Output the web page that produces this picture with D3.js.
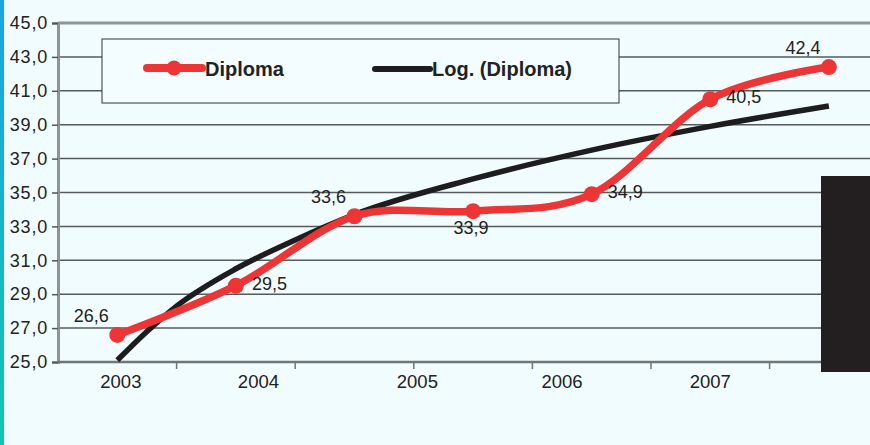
<!DOCTYPE html>
<html>
<head>
<meta charset="utf-8">
<script src="https://cdn.jsdelivr.net/npm/d3@7"></script>
<style>
	body { margin: 0; background: #f1fcfe; }
	text { font-family: "Liberation Sans", Arial, sans-serif; fill: #222; }
</style>
</head>
<body>
<div id="chart"></div>
<script>
// values
var points = ["p1", "p2", "p3", "p4", "p5", "p6", "p7"];
var diploma = [26.6, 29.5, 33.6, 33.9, 34.9, 40.5, 42.4];
var labelPlace = ["tl", "r", "tl", "b", "r", "r", "tl"];
// trendline read at these positions on the point axis
var trendAt = [0, 0.25, 0.5, 1, 1.5, 2, 3, 4, 5, 6];
var logTrend = [25.1, 26.8, 28.3, 30.5, 32.2, 33.7, 35.8, 37.5, 38.9, 40.1];
var years = ["2003", "2004", "2005", "2006", "2007"];
var yearAt = [0.03, 1.19, 2.53, 3.75, 5.0];
var yTicks = [25, 27, 29, 31, 33, 35, 37, 39, 41, 43, 45];

var width = 870;
var height = 445;
var left = 58;
var top_ = 23;
var bottom = 362;

var svg = d3.select("#chart")
		.append("svg")
		.attr("width", width)
		.attr("height", height);

// left colour stripe
var grad = svg.append("defs").append("linearGradient")
		.attr("id", "stripe")
		.attr("x1", 0).attr("y1", 0).attr("x2", 0).attr("y2", 1);
grad.append("stop").attr("offset", "0%").attr("stop-color", "#19a6e2");
grad.append("stop").attr("offset", "100%").attr("stop-color", "#0fc6b2");

svg.append("rect")
	.attr("x", 0).attr("y", 0)
	.attr("width", width).attr("height", height)
	.attr("fill", "#f1fcfe");
svg.append("rect")
	.attr("x", 0).attr("y", 0)
	.attr("width", 4).attr("height", height)
	.attr("fill", "url(#stripe)");

var xBand = d3.scaleBand()
		.domain(points)
		.range([left, left + 7 * 118.6]);
var xIdx = d3.scaleLinear()
		.domain([0, 6])
		.range([xBand("p1") + xBand.bandwidth() / 2, xBand("p7") + xBand.bandwidth() / 2]);
var yScale = d3.scaleLinear()
		.domain([25, 45])
		.range([bottom, top_]);

// gridlines
svg.append("g").selectAll("line")
	.data(yTicks.filter(function(d) { return d > 25 && d < 45; }))
	.enter()
	.append("line")
	.attr("x1", left).attr("x2", width)
	.attr("y1", function(d) { return yScale(d); })
	.attr("y2", function(d) { return yScale(d); })
	.attr("stroke", "#555b5b")
	.attr("stroke-width", 1.5);

// top border
svg.append("line")
	.attr("x1", left).attr("x2", width)
	.attr("y1", yScale(45)).attr("y2", yScale(45))
	.attr("stroke", "#8d9595")
	.attr("stroke-width", 3);

// y axis
var yAxis = svg.append("g")
		.attr("transform", "translate(" + left + ",0)")
		.call(d3.axisLeft(yScale)
			.tickValues(yTicks)
			.tickSize(6)
			.tickPadding(4)
			.tickFormat(function(d) { return d3.format(".1f")(d).replace(".", ","); }));
yAxis.select(".domain").attr("stroke", "#8d9595").attr("stroke-width", 3);
yAxis.selectAll(".tick line").attr("stroke", "#555").attr("stroke-width", 1.5);
yAxis.selectAll(".tick text")
	.attr("font-size", 18)
	.attr("letter-spacing", 0.8)
	.attr("fill", "#222")
	.attr("font-family", "Liberation Sans, Arial, sans-serif");

// x axis
svg.append("line")
	.attr("x1", left).attr("x2", width)
	.attr("y1", bottom).attr("y2", bottom)
	.attr("stroke", "#6f7676")
	.attr("stroke-width", 2.5);
svg.append("g").selectAll("line")
	.data(points.slice(1))
	.enter()
	.append("line")
	.attr("x1", function(d) { return xBand(d); })
	.attr("x2", function(d) { return xBand(d); })
	.attr("y1", bottom).attr("y2", bottom + 7)
	.attr("stroke", "#6f7676")
	.attr("stroke-width", 1.5);

svg.append("g").selectAll("text")
	.data(years)
	.enter()
	.append("text")
	.attr("x", function(d, i) { return xIdx(yearAt[i]); })
	.attr("y", 388)
	.attr("text-anchor", "middle")
	.attr("font-size", 18.5)
	.text(function(d) { return d; });

// legend
svg.append("rect")
	.attr("x", 102).attr("y", 39)
	.attr("width", 517).attr("height", 64)
	.attr("fill", "#f3fdff")
	.attr("stroke", "#333")
	.attr("stroke-width", 1);

svg.append("line")
	.attr("x1", 147).attr("x2", 202)
	.attr("y1", 68).attr("y2", 68)
	.attr("stroke", "#ee3535")
	.attr("stroke-width", 8)
	.attr("stroke-linecap", "round");
svg.append("circle")
	.attr("cx", 174).attr("cy", 68).attr("r", 7.5)
	.attr("fill", "#ee3535");
svg.append("text")
	.attr("x", 205).attr("y", 76)
	.attr("font-size", 20)
	.attr("font-weight", "bold")
	.text("Diploma");

svg.append("line")
	.attr("x1", 375).attr("x2", 430)
	.attr("y1", 69).attr("y2", 69)
	.attr("stroke", "#1d1d1f")
	.attr("stroke-width", 6)
	.attr("stroke-linecap", "round");
svg.append("text")
	.attr("x", 432).attr("y", 76)
	.attr("font-size", 20)
	.attr("font-weight", "bold")
	.text("Log. (Diploma)");

// trendline
var trendLine = d3.line()
		.x(function(d, i) { return xIdx(trendAt[i]); })
		.y(function(d) { return yScale(d); })
		.curve(d3.curveMonotoneX);
svg.append("path")
	.datum(logTrend)
	.attr("d", trendLine)
	.attr("fill", "none")
	.attr("stroke", "#1d1d1f")
	.attr("stroke-width", 5.5);

// diploma series
var seriesLine = d3.line()
		.x(function(d, i) { return xIdx(i); })
		.y(function(d) { return yScale(d); })
		.curve(d3.curveCardinal.tension(0));
svg.append("path")
	.datum(diploma)
	.attr("d", seriesLine)
	.attr("fill", "none")
	.attr("stroke", "#ee3535")
	.attr("stroke-width", 7.5)
	.attr("stroke-linejoin", "round");

svg.append("g").selectAll("circle")
	.data(diploma)
	.enter()
	.append("circle")
	.attr("cx", function(d, i) { return xIdx(i); })
	.attr("cy", function(d) { return yScale(d); })
	.attr("r", 8)
	.attr("fill", "#ee3535");

var place = {
	tl: { dx: -26, dy: -13, anchor: "middle" },
	r:  { dx: 16,  dy: 4,   anchor: "start" },
	b:  { dx: -2,  dy: 23,  anchor: "middle" }
};

svg.append("g").selectAll("text")
	.data(diploma)
	.enter()
	.append("text")
	.attr("x", function(d, i) { return xIdx(i) + place[labelPlace[i]].dx; })
	.attr("y", function(d, i) { return yScale(d) + place[labelPlace[i]].dy; })
	.attr("text-anchor", function(d, i) { return place[labelPlace[i]].anchor; })
	.attr("font-size", 18)
	.text(function(d) { return d3.format(".1f")(d).replace(".", ","); });

// dark block on the right edge
svg.append("rect")
	.attr("x", 821).attr("y", 176)
	.attr("width", 49).attr("height", 196)
	.attr("fill", "#231f20");
</script>
</body>
</html>
